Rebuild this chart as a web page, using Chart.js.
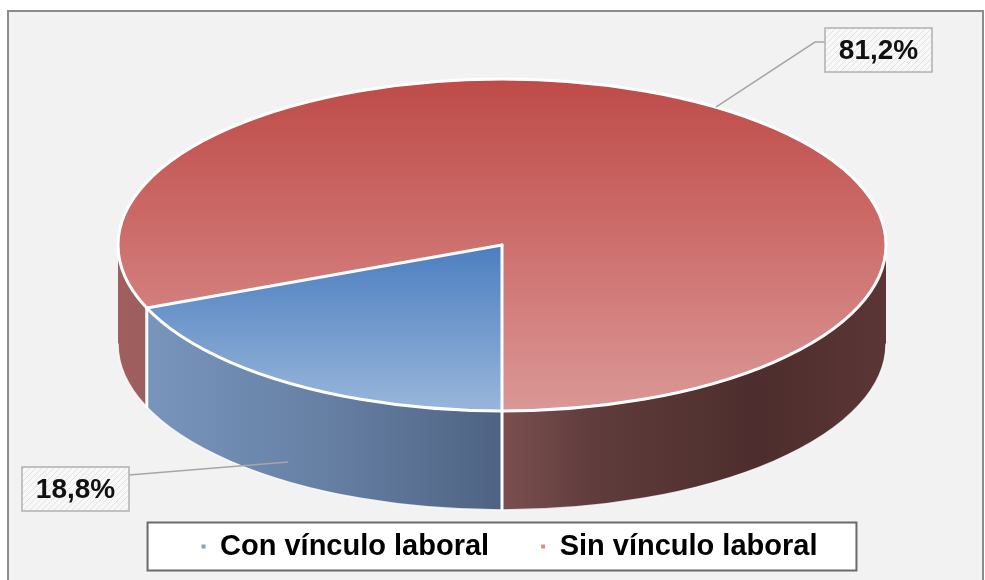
<!DOCTYPE html>
<html>
<head>
<meta charset="utf-8">
<script src="https://cdn.jsdelivr.net/npm/chart.js@4.4.1/dist/chart.umd.min.js"></script>
<style>
    html, body { margin: 0; padding: 0; background: #fff; }
    #wrap { width: 985px; height: 580px; }
</style>
</head>
<body>
<div id="wrap"><canvas id="pieChart" width="985" height="580"></canvas></div>
<script>
const categories = ['Con vínculo laboral', 'Sin vínculo laboral'];
const percentages = [18.8, 81.2];

// look & layout
const PIE = { cx: 502, cy: 245, rx: 384, ry: 166, depth: 99 };
const topStops = [
    [[0, '#2f63a6'], [0.5, '#4c7ec0'], [1, '#98b6da']],
    [[0, '#be4b48'], [0.4, '#cb6866'], [1, '#da9896']]
];
const sideStops = [
    [[0, '#7b98c0'], [0.25, '#6882a6'], [0.5, '#4e6383']],
    [[0, '#a05f5e'], [0.5, '#7a4f4f'], [0.62, '#603c3c'], [0.83, '#4d2d2d'], [1, '#5c3636']]
];
const legendDot = ['#8a9fc0', '#e08a8a'];
const labelBoxes = [
    { x: 22, y: 467, w: 107, h: 44, hook: 8 },
    { x: 825, y: 28, w: 107, h: 44, hook: 14 }
];
const FONT = "'Liberation Sans', Arial, sans-serif";

function ellipsePt(t, dy) {
    return { x: PIE.cx + PIE.rx * Math.cos(t), y: PIE.cy + PIE.ry * Math.sin(t) + (dy || 0) };
}

function frontSegments(s, e) {
    const segs = [];
    for (let k = -1; k <= 2; k++) {
        const lo = Math.max(s, 2 * Math.PI * k);
        const hi = Math.min(e, 2 * Math.PI * k + Math.PI);
        if (hi > lo) segs.push([lo, hi]);
    }
    return segs;
}

function hatchPattern(ctx) {
    const c = document.createElement('canvas');
    c.width = 6; c.height = 6;
    const p = c.getContext('2d');
    p.fillStyle = '#f8f8f8';
    p.fillRect(0, 0, 6, 6);
    p.strokeStyle = '#e2e2e2';
    p.lineWidth = 1;
    p.beginPath();
    p.moveTo(0, 6); p.lineTo(6, 0);
    p.stroke();
    return ctx.createPattern(c, 'repeat');
}

function legendRect(chart) {
    const hb = chart.legend.legendHitBoxes;
    if (!hb || !hb.length) return null;
    const first = hb[0], last = hb[hb.length - 1];
    const x0 = first.left - 54, x1 = last.left + last.width + 39;
    const yc = first.top + first.height / 2;
    return { x: x0, y: yc - 24, w: x1 - x0, h: 48 };
}

const frame = {
    id: 'frame',
    beforeDraw(chart) {
        const ctx = chart.ctx;
        ctx.save();
        ctx.fillStyle = '#ffffff';
        ctx.fillRect(0, 0, chart.width, chart.height);
        ctx.fillStyle = '#f2f2f2';
        ctx.fillRect(8, 11, 975, 580);
        ctx.strokeStyle = '#8c8c8c';
        ctx.lineWidth = 2;
        ctx.strokeRect(8, 11, 975, 590);
        const r = legendRect(chart);
        if (r) {
            ctx.fillStyle = '#ffffff';
            ctx.fillRect(r.x, r.y, r.w, r.h);
        }
        ctx.restore();
    }
};

const pie3d = {
    id: 'pie3d',
    beforeDatasetsDraw(chart) {
        const ctx = chart.ctx;
        const meta = chart.getDatasetMeta(0);
        ctx.save();
        // side walls of the front half
        meta.data.forEach((arc, i) => {
            const g = ctx.createLinearGradient(PIE.cx - PIE.rx, 0, PIE.cx + PIE.rx, 0);
            sideStops[i].forEach(([o, c]) => g.addColorStop(o, c));
            frontSegments(arc.startAngle, arc.endAngle).forEach(([a, b]) => {
                ctx.beginPath();
                ctx.ellipse(PIE.cx, PIE.cy, PIE.rx, PIE.ry, 0, a, b);
                ctx.ellipse(PIE.cx, PIE.cy + PIE.depth, PIE.rx, PIE.ry, 0, b, a, true);
                ctx.closePath();
                ctx.fillStyle = g;
                ctx.fill();
            });
        });
        ctx.restore();

        // squash the round pie into the tilted top face
        const arc0 = meta.data[0];
        ctx.save();
        ctx.translate(PIE.cx, PIE.cy);
        ctx.scale(PIE.rx / arc0.outerRadius, PIE.ry / arc0.outerRadius);
        ctx.translate(-arc0.x, -arc0.y);
    },
    afterDatasetsDraw(chart) {
        const ctx = chart.ctx;
        ctx.restore();
        const meta = chart.getDatasetMeta(0);

        ctx.save();
        ctx.strokeStyle = '#ffffff';
        ctx.lineWidth = 3;
        ctx.lineCap = 'round';
        ctx.beginPath();
        ctx.ellipse(PIE.cx, PIE.cy, PIE.rx, PIE.ry, 0, 0, Math.PI * 2);
        ctx.stroke();
        meta.data.forEach(arc => {
            const p = ellipsePt(arc.startAngle);
            ctx.beginPath();
            ctx.moveTo(PIE.cx, PIE.cy);
            ctx.lineTo(p.x, p.y);
            ctx.stroke();
            if (Math.sin(arc.startAngle) > 0) {
                ctx.beginPath();
                ctx.moveTo(p.x, p.y);
                ctx.lineTo(p.x, p.y + PIE.depth);
                ctx.stroke();
            }
        });
        ctx.lineWidth = 1.5;
        ctx.strokeStyle = 'rgba(255,255,255,0.8)';
        ctx.beginPath();
        ctx.ellipse(PIE.cx, PIE.cy + PIE.depth, PIE.rx, PIE.ry, 0, 0, Math.PI);
        ctx.stroke();
        ctx.restore();

        // data labels with leader lines
        ctx.save();
        const pat = hatchPattern(ctx);
        meta.data.forEach((arc, i) => {
            const mid = (arc.startAngle + arc.endAngle) / 2;
            const front = Math.sin(mid) > 0;
            const p = ellipsePt(mid, front ? PIE.depth * 0.8 : 0);
            const b = labelBoxes[i];
            const leftSide = b.x + b.w / 2 < PIE.cx;
            const hx = leftSide ? b.x + b.w : b.x;
            const hy = b.y + b.hook;
            ctx.strokeStyle = '#a6a6a6';
            ctx.lineWidth = 1.5;
            ctx.beginPath();
            ctx.moveTo(p.x, p.y);
            if (leftSide) {
                ctx.lineTo(hx, hy);
            } else {
                ctx.lineTo(hx - 10, hy);
                ctx.lineTo(hx, hy);
            }
            ctx.stroke();

            ctx.fillStyle = pat;
            ctx.fillRect(b.x, b.y, b.w, b.h);
            ctx.strokeStyle = '#b0b0b0';
            ctx.lineWidth = 1.5;
            ctx.strokeRect(b.x, b.y, b.w, b.h);

            ctx.fillStyle = '#111';
            ctx.font = 'bold 28px ' + FONT;
            ctx.textAlign = 'center';
            ctx.textBaseline = 'middle';
            ctx.fillText(percentages[i].toFixed(1).replace('.', ',') + '%', b.x + b.w / 2, b.y + b.h / 2 + 1);
        });
        ctx.restore();
    },
    afterDraw(chart) {
        const r = legendRect(chart);
        if (!r) return;
        const ctx = chart.ctx;
        ctx.save();
        ctx.strokeStyle = '#6a6a6a';
        ctx.lineWidth = 2;
        ctx.strokeRect(r.x, r.y, r.w, r.h);
        ctx.restore();
    }
};

function topFill(c) {
    const a = c.chart.chartArea;
    if (!a) return '#cccccc';
    const g = c.chart.ctx.createLinearGradient(0, a.top, 0, a.bottom);
    topStops[c.dataIndex].forEach(([o, col]) => g.addColorStop(o, col));
    return g;
}

new Chart(document.getElementById('pieChart').getContext('2d'), {
    type: 'pie',
    data: {
        labels: categories,
        datasets: [{
            data: percentages,
            backgroundColor: topFill,
            borderWidth: 0
        }]
    },
    options: {
        responsive: false,
        devicePixelRatio: 1,
        animation: false,
        events: [],
        rotation: 180,
        layout: { padding: { top: 20, bottom: 9, left: 34, right: 0 } },
        plugins: {
            tooltip: { enabled: false },
            legend: {
                position: 'bottom',
                labels: {
                    color: '#000',
                    font: { family: FONT, size: 29, weight: 'bold' },
                    boxWidth: 4,
                    boxHeight: 4,
                    padding: 52,
                    generateLabels: () => categories.map((t, i) => ({
                        text: t, fillStyle: legendDot[i], strokeStyle: legendDot[i],
                        lineWidth: 0, hidden: false, index: i
                    }))
                }
            }
        }
    },
    plugins: [frame, pie3d]
});
</script>
</body>
</html>
